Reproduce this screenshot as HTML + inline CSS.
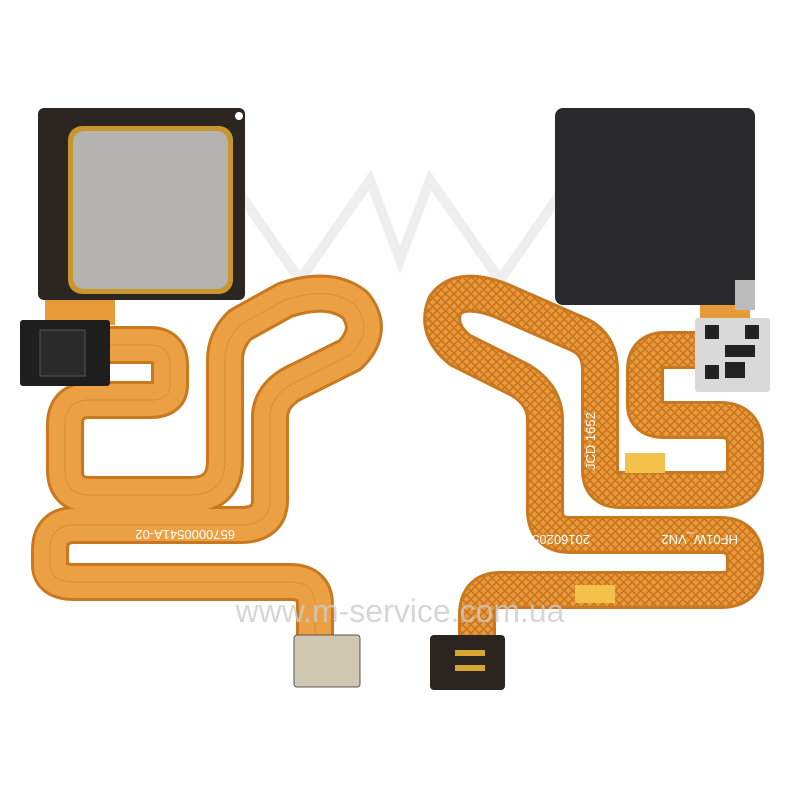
<!DOCTYPE html>
<html><head><style>body{margin:0;background:#fff}svg{display:block}</style></head>
<body>
<svg width="799" height="799" viewBox="0 0 799 799" xmlns="http://www.w3.org/2000/svg">
<defs>
<pattern id="mesh" width="6" height="6" patternUnits="userSpaceOnUse" patternTransform="rotate(45)">
<rect width="6" height="6" fill="#e89a3a"/><rect width="6" height="1.5" fill="#c8731e"/><rect width="1.5" height="6" fill="#c8731e"/>
</pattern>
</defs>
<!-- watermark -->
<g fill="none" stroke="#eeeeee" stroke-width="10">
<path d="M230 180 L300 280 L370 180 L400 260 L430 180 L500 280 L570 180"/>
</g>
<!-- LEFT flex -->
<path d="M110 345 H150 Q170 345 170 365 V385 Q170 400 150 400 H90 Q65 400 65 425 V470 Q65 495 90 495 H190 Q225 495 225 460 V360 Q225 340 240 325 L285 300 Q330 285 355 305 Q375 330 350 355 L300 380 Q272 392 270 415 V500 Q270 525 240 525 H75 Q50 525 50 550 V565 Q50 582 75 582 H290 Q315 582 315 605 V645" fill="none" stroke="#c9781f" stroke-width="38" stroke-linejoin="round"/>
<path d="M110 345 H150 Q170 345 170 365 V385 Q170 400 150 400 H90 Q65 400 65 425 V470 Q65 495 90 495 H190 Q225 495 225 460 V360 Q225 340 240 325 L285 300 Q330 285 355 305 Q375 330 350 355 L300 380 Q272 392 270 415 V500 Q270 525 240 525 H75 Q50 525 50 550 V565 Q50 582 75 582 H290 Q315 582 315 605 V645" fill="none" stroke="#eba044" stroke-width="32" stroke-linejoin="round"/>
<path d="M110 345 H150 Q170 345 170 365 V385 Q170 400 150 400 H90 Q65 400 65 425 V470 Q65 495 90 495 H190 Q225 495 225 460 V360 Q225 340 240 325 L285 300 Q330 285 355 305 Q375 330 350 355 L300 380 Q272 392 270 415 V500 Q270 525 240 525 H75 Q50 525 50 550 V565 Q50 582 75 582 H290 Q315 582 315 605 V645" fill="none" stroke="#d1802a" stroke-width="1" stroke-dasharray="1 0" opacity=".6"/>
<rect x="45" y="295" width="70" height="30" fill="#e89a3a"/>
<rect x="20" y="320" width="90" height="66" rx="3" fill="#1e1e1e"/>
<rect x="40" y="330" width="45" height="46" fill="#2a2a2a" stroke="#555"/>
<!-- left sensor -->
<rect x="38" y="108" width="207" height="192" rx="6" fill="#2b2622"/>
<rect x="68" y="126" width="165" height="168" rx="14" fill="#c9962e"/>
<rect x="73" y="131" width="155" height="158" rx="11" fill="#b5b3b0"/>
<rect x="235" y="112" width="8" height="8" rx="4" fill="#fff"/>
<!-- RIGHT flex -->
<path d="M700 350 H665 Q645 350 645 370 V405 Q645 420 665 420 H720 Q745 420 745 445 V470 Q745 490 720 490 H620 Q600 490 600 470 V370 Q600 345 580 335 L500 300 Q460 285 445 305 Q435 330 460 350 L520 380 Q545 395 545 420 V510 Q545 535 570 535 H720 Q745 535 745 560 V570 Q745 590 720 590 H500 Q477 590 477 615 V645" fill="none" stroke="#c9781f" stroke-width="38" stroke-linejoin="round"/>
<path d="M700 350 H665 Q645 350 645 370 V405 Q645 420 665 420 H720 Q745 420 745 445 V470 Q745 490 720 490 H620 Q600 490 600 470 V370 Q600 345 580 335 L500 300 Q460 285 445 305 Q435 330 460 350 L520 380 Q545 395 545 420 V510 Q545 535 570 535 H720 Q745 535 745 560 V570 Q745 590 720 590 H500 Q477 590 477 615 V645" fill="none" stroke="url(#mesh)" stroke-width="32" stroke-linejoin="round"/>
<rect x="700" y="300" width="50" height="25" fill="#e89a3a"/>
<rect x="555" y="108" width="200" height="197" rx="8" fill="#2a2a2c"/>
<rect x="735" y="280" width="20" height="30" fill="#bbb"/>
<rect x="695" y="318" width="75" height="74" rx="3" fill="#d9d9d9"/>
<g fill="#222"><rect x="705" y="325" width="14" height="14"/><rect x="745" y="325" width="14" height="14"/><rect x="705" y="365" width="14" height="14"/><rect x="725" y="345" width="30" height="12"/><rect x="725" y="362" width="20" height="16"/></g>
<rect x="625" y="453" width="40" height="20" fill="#f2c24a"/>
<rect x="575" y="585" width="40" height="18" fill="#f2c24a"/>
<!-- connectors -->
<rect x="294" y="635" width="66" height="52" rx="3" fill="#cfc7b0" stroke="#555"/>
<rect x="430" y="635" width="75" height="55" rx="4" fill="#2a2520"/>
<g fill="#d8a530"><rect x="455" y="650" width="30" height="6"/><rect x="455" y="665" width="30" height="6"/></g>
<!-- labels -->
<g font-family="Liberation Sans, sans-serif" font-size="13" fill="#fff">
<text transform="translate(235,530) rotate(180)">6570000541A-02</text>
<text transform="translate(590,535) rotate(180)">20160205</text>
<text transform="translate(738,535) rotate(180)">HF01W_VN2</text>
<text transform="translate(595,470) rotate(-90)">JCD 1652</text>
</g>
<text x="400" y="622" text-anchor="middle" font-family="Liberation Sans, sans-serif" font-size="32" fill="#cccccc" opacity=".8">www.m-service.com.ua</text>
</svg>
</body></html>
